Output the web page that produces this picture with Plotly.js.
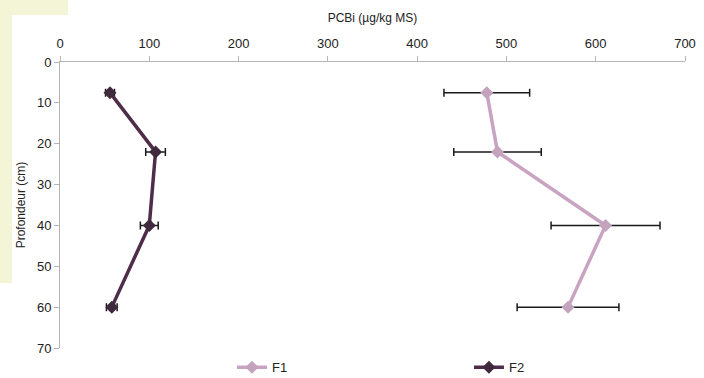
<!DOCTYPE html>
<html>
<head>
<meta charset="utf-8">
<script src="https://cdn.plot.ly/plotly-3.0.1.min.js"></script>
<style>html,body{margin:0;padding:0;background:#fff;}#chart{width:704px;height:378px;}</style>
</head>
<body>
<div id="chart"></div>
<script>
const depths = [7.5, 22, 40, 60];
const f1Values = [478, 490, 611, 569];
const f1Errors = [48, 49, 61, 57];
const f2Values = [56, 107, 100, 58];
const f2Errors = [5, 11, 10, 6];
const seriesNames = ["F1", "F2"];
const xTicks = [0, 100, 200, 300, 400, 500, 600, 700];
const yTicks = [0, 10, 20, 30, 40, 50, 60, 70];

const traces = [
  {
    x: f1Values, y: depths, name: seriesNames[0], type: 'scatter', mode: 'lines+markers',
    line: {color: '#c9a3c2', width: 3.5},
    marker: {symbol: 'diamond', size: 10, color: '#c4a4bd'},
    error_x: {type: 'data', array: f1Errors, visible: true, color: '#1a1a1a', thickness: 1.5, width: 4}
  },
  {
    x: f2Values, y: depths, name: seriesNames[1], type: 'scatter', mode: 'lines+markers',
    line: {color: '#4d2d4a', width: 3.5},
    marker: {symbol: 'diamond', size: 10, color: '#3e2a3c'},
    error_x: {type: 'data', array: f2Errors, visible: true, color: '#1a1a1a', thickness: 1.5, width: 4}
  }
];

const axisFont = {family: 'Liberation Sans, Arial, sans-serif', size: 13, color: '#222'};

const layout = {
  width: 704, height: 378,
  margin: {l: 60, r: 19, t: 62, b: 30, autoexpand: false},
  paper_bgcolor: '#ffffff', plot_bgcolor: '#ffffff',
  showlegend: true,
  xaxis: {
    side: 'top', range: [0, 700], tickvals: xTicks, ticktext: xTicks.map(String),
    showgrid: false, zeroline: false, showline: true, linecolor: '#b5b5b5', linewidth: 1,
    ticks: 'outside', ticklen: 5, tickcolor: '#b5b5b5', ticklabelstandoff: 3,
    tickfont: axisFont,
    title: {text: 'PCBi (µg/kg MS)', font: {family: 'Liberation Sans, Arial, sans-serif', size: 12, color: '#222'}, standoff: 10}
  },
  yaxis: {
    range: [70, 0], tickvals: yTicks, ticktext: yTicks.map(String),
    showgrid: false, zeroline: false, showline: true, linecolor: '#b5b5b5', linewidth: 1,
    ticks: 'outside', ticklen: 5, tickcolor: '#b5b5b5',
    tickfont: axisFont,
    title: {text: 'Profondeur (cm)', font: {family: 'Liberation Sans, Arial, sans-serif', size: 12, color: '#222'}, standoff: 8}
  },
  legend: {
    orientation: 'h', xref: 'container', yref: 'container',
    x: 0.3295, xanchor: 'left', y: 0.068, yanchor: 'top',
    entrywidth: 192, entrywidthmode: 'pixels', itemwidth: 30,
    font: {family: 'Liberation Sans, Arial, sans-serif', size: 13, color: '#222'},
    bgcolor: 'rgba(0,0,0,0)'
  },
  shapes: [
    {type: 'rect', xref: 'paper', yref: 'paper', x0: -0.096, x1: -0.0768, y0: 0.227, y1: 1.22, fillcolor: '#f3f5d6', line: {width: 0}, layer: 'below'},
    {type: 'rect', xref: 'paper', yref: 'paper', x0: -0.096, x1: 0.0128, y0: 1.164, y1: 1.22, fillcolor: '#f3f5d6', line: {width: 0}, layer: 'below'}
  ]
};

Plotly.newPlot('chart', traces, layout, {displayModeBar: false, staticPlot: true});
</script>
</body>
</html>
